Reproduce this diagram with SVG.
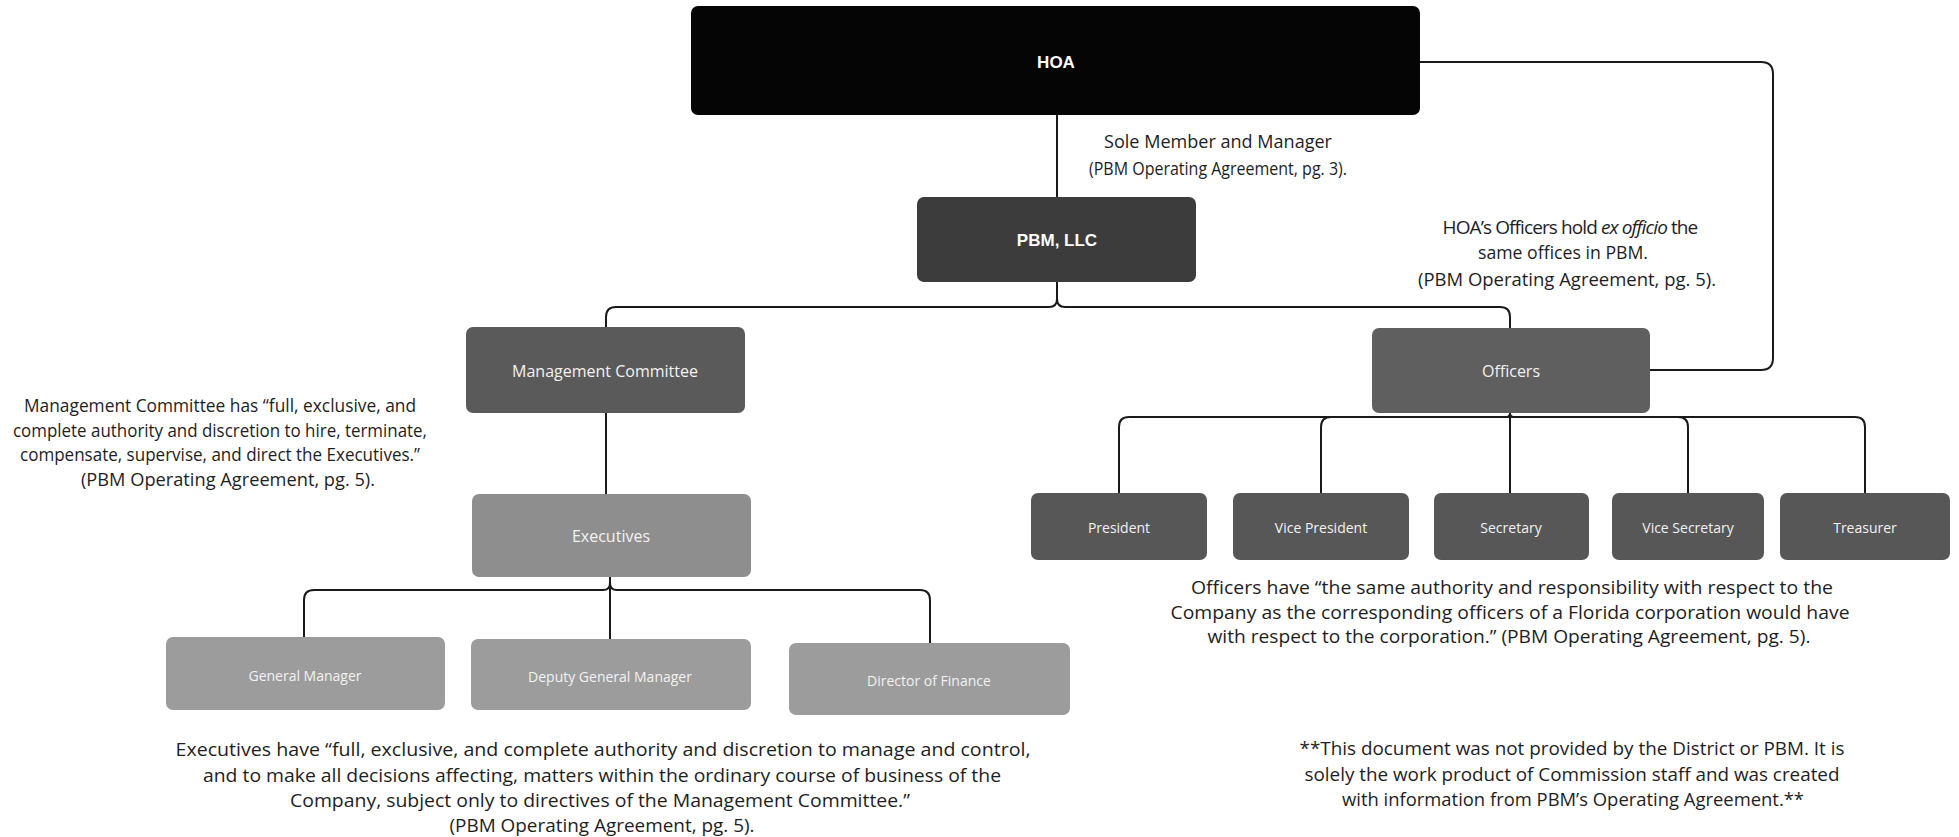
<svg xmlns="http://www.w3.org/2000/svg" width="1959" height="837" viewBox="0 0 1959 837">
<defs>
<style>
.bg{fill:#ffffff}
.conn{fill:none;stroke:#1a1a1a;stroke-width:2;stroke-linecap:round;stroke-linejoin:round}
.lbl{font-family:"Open Sans","Liberation Sans",sans-serif;fill:#f2f2f2;text-anchor:middle;dominant-baseline:central}
.lblb{font-family:"Liberation Sans",Arial,sans-serif;font-weight:bold;fill:#ffffff;text-anchor:middle;dominant-baseline:central;font-size:17px}
.note{font-family:"Open Sans","Liberation Sans",sans-serif;font-size:19px;fill:#1e1e1e;text-anchor:middle}
.note-s{font-family:"Open Sans","Liberation Sans",sans-serif;font-size:17.5px;fill:#1e1e1e;text-anchor:middle}
</style>
</defs>
<rect class="bg" x="0" y="0" width="1959" height="837"/>

<g id="connectors">
  <path class="conn" d="M1057,115 L1057,197"/>
  <path class="conn" d="M1420,62 L1761,62 Q1773,62 1773,74 L1773,358 Q1773,370 1761,370 L1650,370"/>
  <path class="conn" d="M1057,282 L1057,299 Q1057,307 1049,307 L616,307 Q606,307 606,317 L606,327"/>
  <path class="conn" d="M1057,282 L1057,299 Q1057,307 1065,307 L1500,307 Q1510,307 1510,317 L1510,328"/>
  <path class="conn" d="M606,413 L606,494"/>
  <path class="conn" d="M610,577 L610,583 Q610,590 603,590 L314,590 Q304,590 304,600 L304,637"/>
  <path class="conn" d="M610,577 L610,639"/>
  <path class="conn" d="M610,577 L610,583 Q610,590 617,590 L920,590 Q930,590 930,600 L930,643"/>
  <path class="conn" d="M1510,413 L1510,414 Q1510,417 1507,417 L1129,417 Q1119,417 1119,427 L1119,493"/>
  <path class="conn" d="M1510,413 L1510,414 Q1510,417 1507,417 L1331,417 Q1321,417 1321,427 L1321,493"/>
  <path class="conn" d="M1510,413 L1510,493"/>
  <path class="conn" d="M1510,413 L1510,414 Q1510,417 1513,417 L1678,417 Q1688,417 1688,427 L1688,493"/>
  <path class="conn" d="M1510,413 L1510,414 Q1510,417 1513,417 L1855,417 Q1865,417 1865,427 L1865,493"/>
</g>

<g id="node-hoa">
  <rect x="691" y="6" width="729" height="109" rx="7" fill="#050505"/>
  <text class="lblb" x="1056" y="62">HOA</text>
</g>
<g id="node-pbm">
  <rect x="917" y="197" width="279" height="85" rx="7" fill="#3c3c3c"/>
  <text class="lblb" x="1057" y="240">PBM, LLC</text>
</g>
<g id="node-mc">
  <rect x="466" y="327" width="279" height="86" rx="7" fill="#5a5a5a"/>
  <text class="lbl" x="605" y="371" font-size="16">Management Committee</text>
</g>
<g id="node-officers">
  <rect x="1372" y="328" width="278" height="85" rx="7" fill="#5f5f5f"/>
  <text class="lbl" x="1511" y="371" font-size="16">Officers</text>
</g>
<g id="node-executives">
  <rect x="472" y="494" width="279" height="83" rx="7" fill="#8e8e8e"/>
  <text class="lbl" x="611" y="536" font-size="16">Executives</text>
</g>
<g id="node-gm">
  <rect x="166" y="637" width="279" height="73" rx="7" fill="#9c9c9c"/>
  <text class="lbl" x="305" y="675" font-size="14">General Manager</text>
</g>
<g id="node-dgm">
  <rect x="471" y="639" width="280" height="71" rx="7" fill="#9c9c9c"/>
  <text class="lbl" x="610" y="676" font-size="14">Deputy General Manager</text>
</g>
<g id="node-dof">
  <rect x="789" y="643" width="281" height="72" rx="7" fill="#9c9c9c"/>
  <text class="lbl" x="929" y="680" font-size="14">Director of Finance</text>
</g>
<g id="node-president">
  <rect x="1031" y="493" width="176" height="67" rx="7" fill="#575757"/>
  <text class="lbl" x="1119" y="527" font-size="14">President</text>
</g>
<g id="node-vp">
  <rect x="1233" y="493" width="176" height="67" rx="7" fill="#575757"/>
  <text class="lbl" x="1321" y="527" font-size="14">Vice President</text>
</g>
<g id="node-secretary">
  <rect x="1434" y="493" width="155" height="67" rx="7" fill="#575757"/>
  <text class="lbl" x="1511" y="527" font-size="14">Secretary</text>
</g>
<g id="node-vs">
  <rect x="1612" y="493" width="152" height="67" rx="7" fill="#575757"/>
  <text class="lbl" x="1688" y="527" font-size="14">Vice Secretary</text>
</g>
<g id="node-treasurer">
  <rect x="1780" y="493" width="170" height="67" rx="7" fill="#575757"/>
  <text class="lbl" x="1865" y="527" font-size="14">Treasurer</text>
</g>

<g id="note-sole">
  <text class="note-s" x="1218" y="148" textLength="228" lengthAdjust="spacingAndGlyphs">Sole Member and Manager</text>
  <text class="note-s" x="1218" y="175" textLength="258" lengthAdjust="spacingAndGlyphs">(PBM Operating Agreement, pg. 3).</text>
</g>
<g id="note-exofficio">
  <text class="note" x="1570" y="234" font-size="18.5" letter-spacing="-0.9">HOA’s Officers hold <tspan font-style="italic">ex officio</tspan> the</text>
  <text class="note" x="1563" y="259" textLength="170" lengthAdjust="spacingAndGlyphs">same offices in PBM.</text>
  <text class="note" x="1567" y="286" textLength="298" lengthAdjust="spacingAndGlyphs">(PBM Operating Agreement, pg. 5).</text>
</g>
<g id="note-mc">
  <text class="note" x="220" y="412" textLength="392" lengthAdjust="spacingAndGlyphs">Management Committee has “full, exclusive, and</text>
  <text class="note" x="220" y="437" textLength="414" lengthAdjust="spacingAndGlyphs">complete authority and discretion to hire, terminate,</text>
  <text class="note" x="220" y="461" textLength="400" lengthAdjust="spacingAndGlyphs">compensate, supervise, and direct the Executives.”</text>
  <text class="note" x="228" y="486" textLength="294" lengthAdjust="spacingAndGlyphs">(PBM Operating Agreement, pg. 5).</text>
</g>
<g id="note-officers">
  <text class="note" x="1512" y="594" textLength="642" lengthAdjust="spacingAndGlyphs">Officers have “the same authority and responsibility with respect to the</text>
  <text class="note" x="1510" y="619" textLength="679" lengthAdjust="spacingAndGlyphs">Company as the corresponding officers of a Florida corporation would have</text>
  <text class="note" x="1509" y="643" textLength="603" lengthAdjust="spacingAndGlyphs">with respect to the corporation.” (PBM Operating Agreement, pg. 5).</text>
</g>
<g id="note-executives">
  <text class="note" x="603" y="756" textLength="855" lengthAdjust="spacingAndGlyphs">Executives have “full, exclusive, and complete authority and discretion to manage and control,</text>
  <text class="note" x="602" y="782" textLength="798" lengthAdjust="spacingAndGlyphs">and to make all decisions affecting, matters within the ordinary course of business of the</text>
  <text class="note" x="600" y="807" textLength="620" lengthAdjust="spacingAndGlyphs">Company, subject only to directives of the Management Committee.”</text>
  <text class="note" x="602" y="832" textLength="305" lengthAdjust="spacingAndGlyphs">(PBM Operating Agreement, pg. 5).</text>
</g>
<g id="note-disclaimer">
  <text class="note" x="1572" y="755" textLength="545" lengthAdjust="spacingAndGlyphs">**This document was not provided by the District or PBM. It is</text>
  <text class="note" x="1572" y="781" textLength="535" lengthAdjust="spacingAndGlyphs">solely the work product of Commission staff and was created</text>
  <text class="note" x="1573" y="806" textLength="462" lengthAdjust="spacingAndGlyphs">with information from PBM’s Operating Agreement.**</text>
</g>
</svg>
